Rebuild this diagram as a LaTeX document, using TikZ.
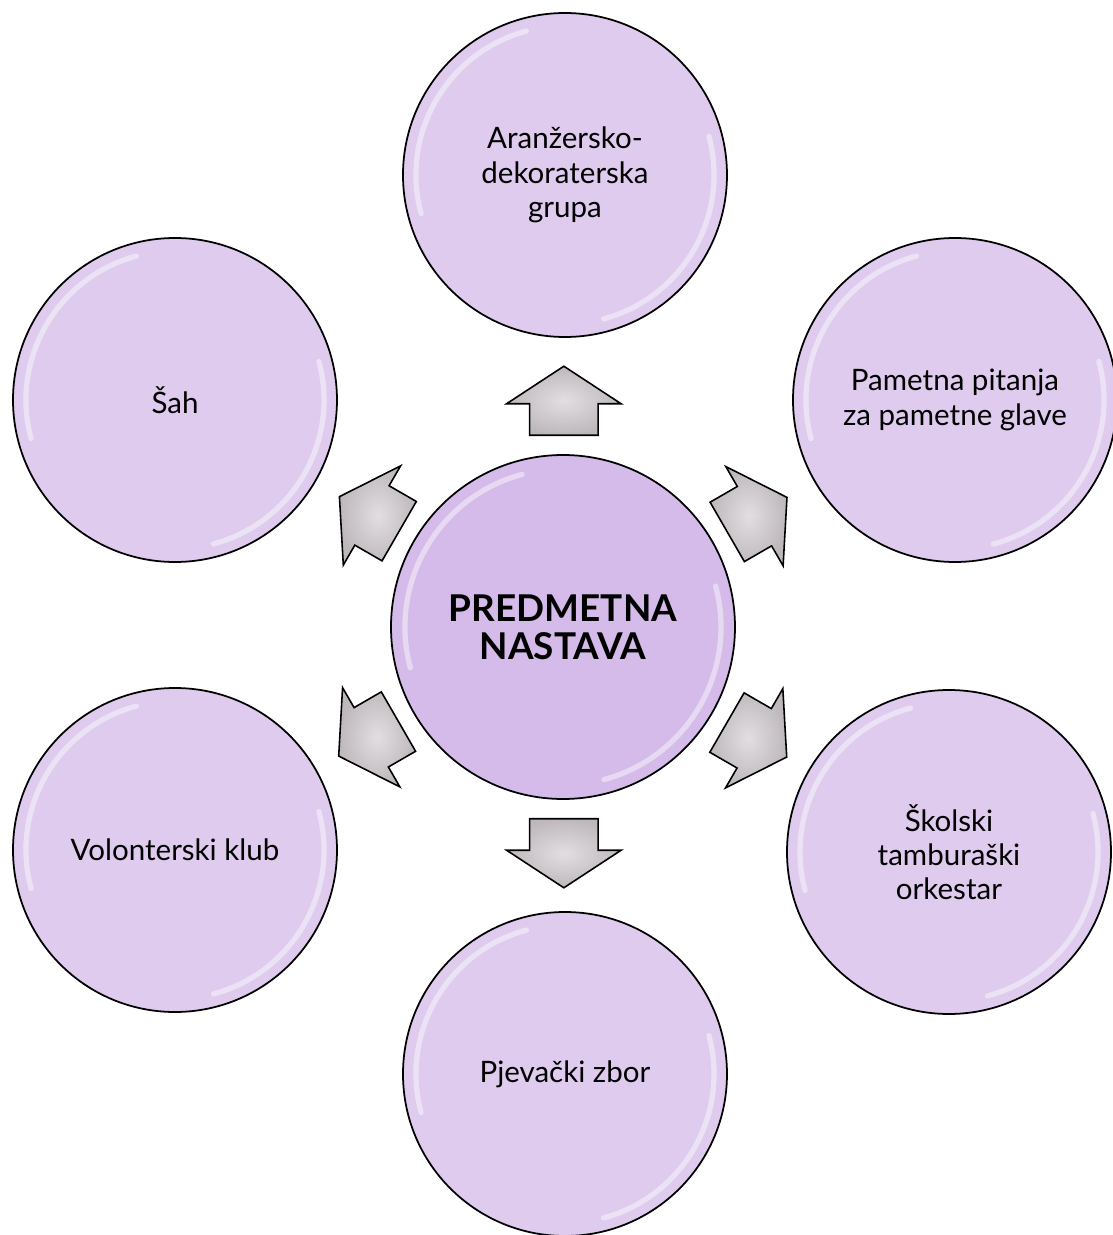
\documentclass[tikz,border=0pt]{standalone}
\usepackage{fontspec}
\setmainfont{Lato}
\usetikzlibrary{shapes.arrows}
\usetikzlibrary{calc}
\definecolor{bubble}{RGB}{222,203,238}
\definecolor{hubfill}{RGB}{213,187,233}
\definecolor{arrowgrey}{RGB}{190,184,188}
\definecolor{arrowlight}{RGB}{226,222,225}

\begin{document}
\begin{tikzpicture}[
  ring/.style={circle,draw=black,line width=1pt,align=center,inner sep=0pt,
    path picture={
      \draw[white,opacity=.45,line width=3pt,line cap=round]
        ([shift={(105:#1)}]path picture bounding box.center) arc[start angle=105,end angle=195,radius=#1];
      \draw[white,opacity=.45,line width=3pt,line cap=round]
        ([shift={(-75:#1)}]path picture bounding box.center) arc[start angle=-75,end angle=15,radius=#1];
    }},
  item/.style={ring=2.98cm,fill=bubble,minimum size=6.48cm,font=\fontsize{16.8}{19.5}\selectfont},
  hub/.style={ring=3.16cm,fill=hubfill,minimum size=6.88cm,font=\fontsize{21}{21.5}\selectfont\bfseries},
  blockarrow/.style={single arrow,draw=black,line width=0.9pt,inner color=arrowlight,outer color=arrowgrey,
    minimum height=1.38cm,single arrow head extend=0.46cm,
    single arrow tip angle=113.5,inner xsep=0pt,inner ysep=0.67cm,anchor=tail,rotate=#1}
]
\useasboundingbox (-11.26,-12.16) rectangle (11.0,12.54);

\node[hub] (hub) at (0,0) {PREDMETNA\\NASTAVA};

\node[item] (aranz) at (0.04,9.04) {Aranžersko-\\dekoraterska\\grupa};
\node[item] (pametna) at (7.84,4.54) {Pametna pitanja\\za pametne glave};
\node[item] (skolski) at (7.72,-4.5) {Školski\\tamburaški\\orkestar};
\node[item] (pjevacki) at (0.04,-8.94) {Pjevački zbor};
\node[item] (volont) at (-7.76,-4.46) {Volonterski klub};
\node[item] (sah) at (-7.76,4.54) {Šah};

\node[blockarrow=90] (toaranz) at ($(hub)!3.82cm!(aranz)$) {};
\node[blockarrow=30] (topametna) at ($(hub)!3.78cm!(pametna)$) {};
\node[blockarrow=-30] (toskolski) at ($(hub)!3.78cm!(skolski)$) {};
\node[blockarrow=-90] (topjevacki) at ($(hub)!3.82cm!(pjevacki)$) {};
\node[blockarrow=210] (tovolont) at ($(hub)!3.78cm!(volont)$) {};
\node[blockarrow=150] (tosah) at ($(hub)!3.78cm!(sah)$) {};

\end{tikzpicture}
\end{document}
